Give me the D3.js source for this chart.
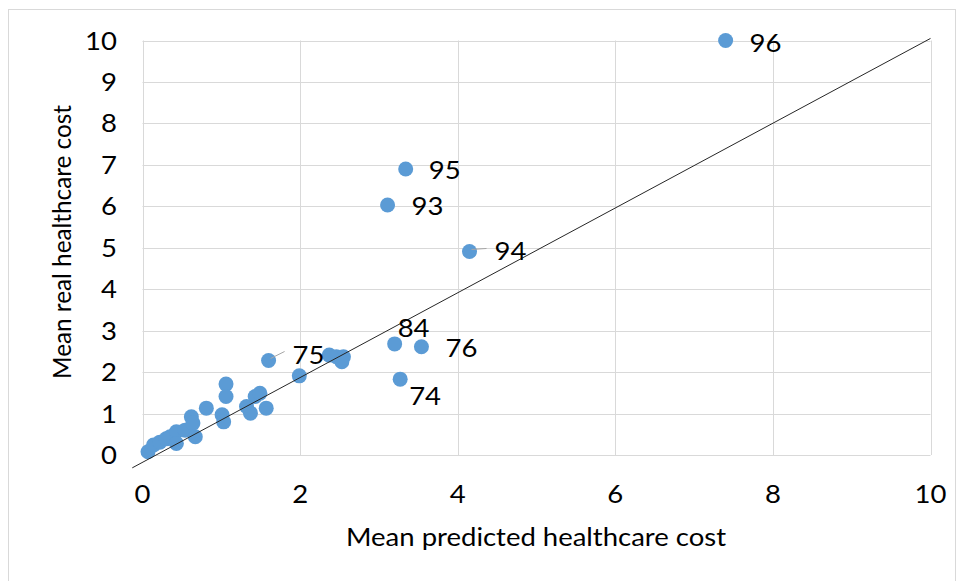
<!DOCTYPE html>
<html lang="en">
<head>
	<meta charset="utf-8">
	<title> Healthcare cost scatter </title>
	<script src="https://d3js.org/d3.v7.min.js"></script>
	<style type="text/css">
		body{ margin:0; background:#fff; }
		svg{ display:block; }
		text{ font-family: Lato, "Open Sans", sans-serif; fill:#000; }
	</style>
</head>
<body>
	<svg id="chart" width="958" height="581"></svg>

	<script type="text/javascript">

	// data
	var predicted = [0.07, 0.14, 0.22, 0.30, 0.35, 0.43, 0.43, 0.54, 0.62, 0.64, 0.67, 0.81,
		1.01, 1.03, 1.06, 1.06, 1.32, 1.37, 1.43, 1.49, 1.57, 1.60, 1.99,
		2.37, 2.46, 2.55, 2.53, 3.20, 3.54, 3.27, 3.11, 3.34, 4.15, 7.40]
	var real = [0.08, 0.24, 0.31, 0.39, 0.44, 0.56, 0.28, 0.60, 0.92, 0.77, 0.44, 1.13,
		0.97, 0.80, 1.71, 1.41, 1.17, 1.01, 1.41, 1.49, 1.13, 2.28, 1.91,
		2.41, 2.37, 2.37, 2.25, 2.68, 2.61, 1.83, 6.03, 6.90, 4.91, 10.0]
	var pointLabels = ["", "", "", "", "", "", "", "", "", "", "", "",
		"", "", "", "", "", "", "", "", "", "75", "",
		"", "", "", "", "84", "76", "74", "93", "95", "94", "96"]

	var xTicks = [0, 2, 4, 6, 8, 10]
	var yTicks = [0, 1, 2, 3, 4, 5, 6, 7, 8, 9, 10]

	// reference line ends
	var refX = [-0.13, 10]
	var refY = [-0.31, 10.05]

	var xTitle = "Mean predicted healthcare cost"
	var yTitle = "Mean real healthcare cost"

	// label placement, px offset from point centre: [dx, dy, leader]
	var labelPos = {
		"96": [24, 2, false],
		"95": [23, 1, false],
		"93": [24, 1, false],
		"94": [25, 0, true],
		"84": [3, -16, false],
		"76": [24, 1, false],
		"74": [9, 17, false],
		"75": [24, -6, true]
	}

	var blue = "#5b9bd5"
	var gridColor = "#d9d9d9"
	var fontSize = 25
	var stretch = 1.1   // the source text is a little wider than Lato

	var plot = {left:142.5, right:930.5, top:40.5, bottom:455}

	var svg = d3.select("#chart")

	var x = d3.scaleLinear().domain([0, 10]).range([plot.left, plot.right])
	var y = d3.scaleLinear().domain([0, 10]).range([plot.bottom, plot.top])

	function place(px, py){
		return "translate(" + px + "," + py + ") scale(" + stretch + ",1)"
	}

	// chart border
	svg.append("rect")
		.attr("x", 8.5).attr("y", 9.5)
		.attr("width", 947).attr("height", 575)
		.attr("fill", "none")
		.attr("stroke", gridColor)

	// gridlines
	svg.append("g")
		.selectAll("line")
		.data(yTicks)
		.enter()
		.append("line")
		.attr("x1", plot.left).attr("x2", plot.right)
		.attr("y1", d => Math.round(y(d)) + 0.5).attr("y2", d => Math.round(y(d)) + 0.5)
		.attr("stroke", gridColor)

	svg.append("g")
		.selectAll("line")
		.data(xTicks)
		.enter()
		.append("line")
		.attr("y1", plot.top).attr("y2", plot.bottom)
		.attr("x1", d => Math.round(x(d)) + 0.5).attr("x2", d => Math.round(x(d)) + 0.5)
		.attr("stroke", gridColor)

	// tick labels
	svg.append("g")
		.selectAll("text")
		.data(yTicks)
		.enter()
		.append("text")
		.attr("transform", d => place(117, y(d)))
		.attr("dy", "0.36em")
		.attr("text-anchor", "end")
		.attr("font-size", fontSize)
		.text(d => d)

	svg.append("g")
		.selectAll("text")
		.data(xTicks)
		.enter()
		.append("text")
		.attr("transform", d => place(x(d), 494))
		.attr("dy", "0.36em")
		.attr("text-anchor", "middle")
		.attr("font-size", fontSize)
		.text(d => d)

	// axis titles
	svg.append("text")
		.attr("transform", place(536, 537))
		.attr("dy", "0.36em")
		.attr("text-anchor", "middle")
		.attr("font-size", fontSize)
		.text(xTitle)

	svg.append("text")
		.attr("transform", "translate(62,242) rotate(-90)")
		.attr("dy", "0.36em")
		.attr("text-anchor", "middle")
		.attr("font-size", 24.3)
		.text(yTitle)

	// points
	var pts = predicted.map((d, i) => ({x: d, y: real[i], label: pointLabels[i]}))

	svg.append("g")
		.selectAll("circle")
		.data(pts)
		.enter()
		.append("circle")
		.attr("cx", d => x(d.x))
		.attr("cy", d => y(d.y))
		.attr("r", 7.5)
		.attr("fill", blue)

	// reference line
	svg.append("line")
		.attr("x1", x(refX[0])).attr("y1", y(refY[0]))
		.attr("x2", x(refX[1])).attr("y2", y(refY[1]))
		.attr("stroke", "#262626")
		.attr("stroke-width", 1)

	// data labels
	var labelled = pts.filter(d => d.label !== "")

	svg.append("g")
		.selectAll("line")
		.data(labelled.filter(d => labelPos[d.label][2]))
		.enter()
		.append("line")
		.attr("x1", d => x(d.x) + 2)
		.attr("y1", d => y(d.y) - 2)
		.attr("x2", d => x(d.x) + labelPos[d.label][0] - 8)
		.attr("y2", d => y(d.y) + labelPos[d.label][1] - 3)
		.attr("stroke", "#a6a6a6")
		.attr("stroke-width", 1)

	svg.append("g")
		.selectAll("text")
		.data(labelled)
		.enter()
		.append("text")
		.attr("transform", d => place(x(d.x) + labelPos[d.label][0], y(d.y) + labelPos[d.label][1]))
		.attr("dy", "0.36em")
		.attr("font-size", fontSize)
		.text(d => d.label)

	</script>
</body>
</html>
